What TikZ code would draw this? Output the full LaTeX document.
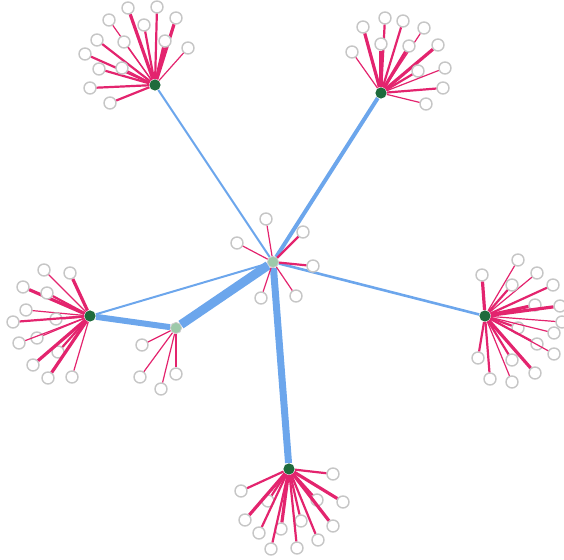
\documentclass[tikz,border=0pt]{standalone}
\definecolor{spokepink}{HTML}{E3246E}
\definecolor{trunkblue}{HTML}{6CA6EC}
\definecolor{hubgreen}{HTML}{1E6B3C}
\definecolor{coregreen}{HTML}{9CC9AA}
\begin{document}
\begin{tikzpicture}[x=0.5pt, y=-0.5pt,
  leaf/.style={circle, draw=gray!45, fill=white, line width=0.7pt, minimum size=6pt, inner sep=0pt},
  hub/.style={circle, fill=hubgreen, minimum size=5.6pt, inner sep=0pt},
  core/.style={circle, fill=coregreen, draw=gray!40, line width=0.4pt, minimum size=5.6pt, inner sep=0pt},
  spoke/.style={draw=spokepink},
  trunk/.style={draw=trunkblue}]

\useasboundingbox (0,0) rectangle (564,560);

% hubs
\node (c)  [core] at (273,262) {};
\node (m)  [core] at (176,328) {};
\node (tl) [hub] at (155,85) {};
\node (tr) [hub] at (381,93) {};
\node (l)  [hub] at (90,316) {};
\node (r)  [hub] at (485,316) {};
\node (b)  [hub] at (289,469) {};

% blue links
\draw [trunk, line width=1pt]   (c) -- (tl);
\draw [trunk, line width=2pt]   (c) -- (tr);
\draw [trunk, line width=1pt]   (c) -- (l);
\draw [trunk, line width=1.3pt] (c) -- (r);
\draw [trunk, line width=3.5pt] (c) -- (b);
\draw [trunk, line width=4.5pt] (c) -- (m);
\draw [trunk, line width=3pt]   (l) -- (m);

% leaves
\foreach \x/\y/\w [count=\i] in {128/8/1.6, 157/7/1.1, 176/18/1.6, 109/20/0.6, 144/25/1.1,
    97/40/1.1, 124/42/0.6, 165/41/1.6, 188/48/0.6, 85/54/1.1, 99/69/1.1, 122/68/0.6,
    90/88/1.1, 110/103/1.1}
  {\node (tl\i) [leaf] at (\x,\y) {};
   \draw [spoke, line width=\w] (tl) -- (tl\i);}

\foreach \x/\y/\w [count=\i] in {385/18/1.1, 403/21/1.1, 363/27/1.6, 424/28/0.6, 381/44/1.6,
    409/46/1.6, 438/45/1.6, 352/52/0.6, 418/71/1.1, 445/68/0.6, 443/88/1.1, 426/104/0.6}
  {\node (tr\i) [leaf] at (\x,\y) {};
   \draw [spoke, line width=\w] (tr) -- (tr\i);}

\foreach \x/\y/\w [count=\i] in {44/270/0.6, 70/273/1.6, 23/287/1.6, 47/293/1.1, 26/310/0.6,
    56/319/1.1, 13/322/1.1, 37/338/0.6, 19/343/0.6, 58/352/1.1, 33/365/1.6, 48/378/1.6,
    72/377/0.6}
  {\node (l\i) [leaf] at (\x,\y) {};
   \draw [spoke, line width=\w] (l) -- (l\i);}

\foreach \x/\y/\w [count=\i] in {142/345/0.6, 140/377/0.6, 161/389/0.6, 176/374/0.6}
  {\node (m\i) [leaf] at (\x,\y) {};
   \draw [spoke, line width=\w] (m) -- (m\i);}

\foreach \x/\y/\w [count=\i] in {266/219/0.6, 303/232/1.1, 237/243/0.6, 313/266/1.1,
    261/298/0.6, 296/296/0.6}
  {\node (c\i) [leaf] at (\x,\y) {};
   \draw [spoke, line width=\w] (c) -- (c\i);}

\foreach \x/\y/\w [count=\i] in {518/260/0.6, 482/275/1.6, 537/273/0.6, 512/285/1.1,
    553/285/1.1, 535/305/1.6, 560/306/1.6, 562/322/0.6, 518/328/1.1, 554/333/0.6,
    537/344/1.1, 554/354/0.6, 478/358/1.1, 512/360/1.1, 535/373/1.6, 490/379/1.1,
    512/382/0.6}
  {\node (r\i) [leaf] at (\x,\y) {};
   \draw [spoke, line width=\w] (r) -- (r\i);}

\foreach \x/\y/\w [count=\i] in {333/474/1.1, 241/491/1.1, 268/501/1.1, 317/500/1.1,
    343/502/1.6, 245/520/1.6, 301/521/1.1, 281/529/1.6, 333/526/1.6, 259/533/1.1,
    318/540/1.1, 271/549/1.1, 297/548/1.1}
  {\node (b\i) [leaf] at (\x,\y) {};
   \draw [spoke, line width=\w] (b) -- (b\i);}

\end{tikzpicture}
\end{document}
